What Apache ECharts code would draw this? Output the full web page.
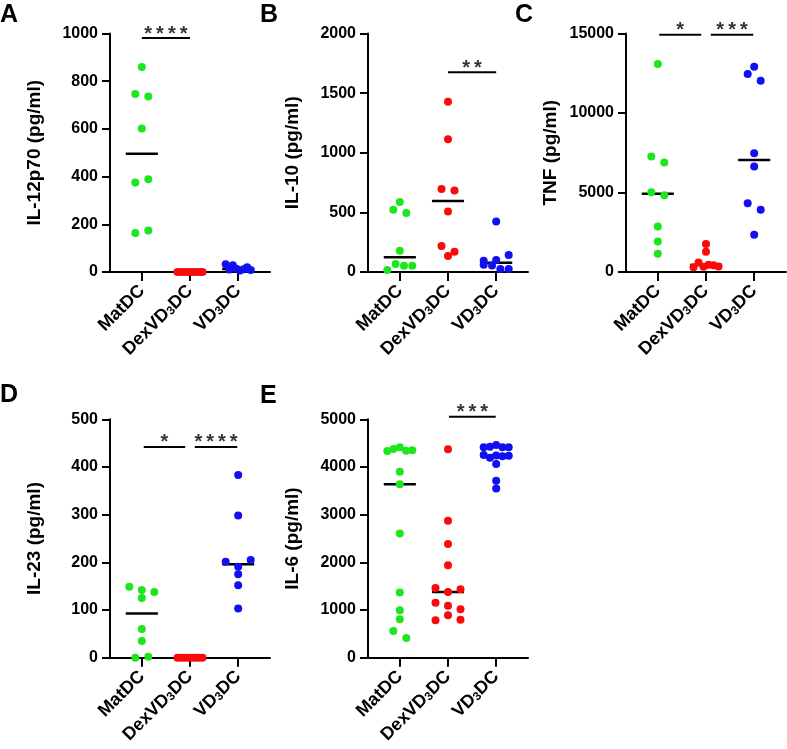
<!DOCTYPE html>
<html>
<head>
<meta charset="utf-8">
<script src="https://cdn.jsdelivr.net/npm/echarts@6.0.0/dist/echarts.min.js"></script>
<style>
html, body { margin: 0; padding: 0; background: #fff; }
#main { width: 787px; height: 749px; }
</style>
</head>
<body>
<div id="main"></div>
<script>
// groups on every x axis
var groupNames = ['MatDC', 'DexVD{sub|3}DC', 'VD{sub|3}DC'];
var groupColors = ['#1ee61e', '#fa0a0a', '#1010f0'];

// A - IL-12p70 (pg/ml)
var il12MatDC = [860, 746, 736, 602, 375, 389, 163, 174];
var il12DexVD3DC = [0, 0, 0, 0, 0, 0, 0, 0];
var il12VD3DC = [32, 10, 28, 14, 6, 12, 20, 8];

// B - IL-10 (pg/ml)
var il10MatDC = [586, 522, 494, 179, 17, 67, 53, 53];
var il10DexVD3DC = [1428, 1113, 697, 683, 508, 218, 170, 134];
var il10VD3DC = [424, 95, 101, 143, 60, 55, 25, 25];

// C - TNF (pg/ml)
var tnfMatDC = [13075, 7259, 6883, 5021, 4833, 2866, 1925, 1150];
var tnfDexVD3DC = [1760, 1280, 300, 600, 330, 450, 420, 350];
var tnfVD3DC = [12908, 12448, 12029, 7469, 6632, 4331, 3912, 2343];

// D - IL-23 (pg/ml)
var il23MatDC = [149, 142, 138, 125, 60, 35, 0, 2];
var il23DexVD3DC = [0, 0, 0, 0, 0, 0, 0, 0];
var il23VD3DC = [383, 298, 201, 191, 205, 175, 152, 103];

// E - IL-6 (pg/ml)
var il6MatDC = [4334, 4376, 4412, 4340, 4349, 3899, 3640, 2605, 1365, 994, 805, 559, 412];
var il6DexVD3DC = [4370, 2870, 2387, 1939, 1462, 1378, 1435, 1155, 1092, 1015, 784, 889, 798];
var il6VD3DC = [4412, 4425, 4460, 4412, 4412, 4250, 4195, 4240, 4225, 4235, 4061, 3710, 3550];

// significance brackets: [from group, to group, height, stars]
var sigA = [[1, 2, 981, 4]];
var sigB = [[2, 3, 1675, 2]];
var sigC = [[1.03, 1.9, 14925, 1], [2.1, 2.98, 14925, 3]];
var sigD = [[1.04, 1.9, 442, 1], [2.1, 2.98, 442, 4]];
var sigE = [[2.02, 2.99, 5055, 3]];

var panels = [
    { letter: 'A', title: 'IL-12p70 (pg/ml)', max: 1000, step: 200, groups: [il12MatDC, il12DexVD3DC, il12VD3DC], sig: sigA,
      box: { left: 110, top: 33.5, width: 160, height: 238.5 }, lx: 0, ly: 3 },
    { letter: 'B', title: 'IL-10 (pg/ml)', max: 2000, step: 500, groups: [il10MatDC, il10DexVD3DC, il10VD3DC], sig: sigB,
      box: { left: 368, top: 33.5, width: 160, height: 238.5 }, lx: 260, ly: 3 },
    { letter: 'C', title: 'TNF (pg/ml)', max: 15000, step: 5000, groups: [tnfMatDC, tnfDexVD3DC, tnfVD3DC], sig: sigC,
      box: { left: 626, top: 33.5, width: 160, height: 238.5 }, lx: 515, ly: 3 },
    { letter: 'D', title: 'IL-23 (pg/ml)', max: 500, step: 100, groups: [il23MatDC, il23DexVD3DC, il23VD3DC], sig: sigD,
      box: { left: 110, top: 419.3, width: 160, height: 238.4 }, lx: 0, ly: 383 },
    { letter: 'E', title: 'IL-6 (pg/ml)', max: 5000, step: 1000, groups: [il6MatDC, il6DexVD3DC, il6VD3DC], sig: sigE,
      box: { left: 368, top: 419.3, width: 160, height: 238.4 }, lx: 260, ly: 384 }
];

var xMin = 0.34, xMax = 3.66;
var FONT = 'Liberation Sans, Arial, sans-serif';

function median(arr) {
    var s = arr.slice().sort(function (a, b) { return a - b; });
    var m = Math.floor(s.length / 2);
    return s.length % 2 ? s[m] : (s[m - 1] + s[m]) / 2;
}

// prism-like scatter: points closer than a dot are spread on one row (px offsets)
function spread(values, pxPerVal) {
    var idx = values.map(function (v, i) { return i; });
    idx.sort(function (a, b) { return values[b] - values[a]; });
    var offs = [];
    var bin = [];
    function flush() {
        bin.sort(function (a, b) { return a - b; });
        var n = bin.length;
        var sp = n > 1 ? Math.min(13, 25 / (n - 1)) : 0;
        bin.forEach(function (k, j) { offs[k] = (j - (n - 1) / 2) * sp; });
        bin = [];
    }
    idx.forEach(function (k) {
        if (bin.length && (values[bin[0]] - values[k]) * pxPerVal > 7.2) flush();
        bin.push(k);
    });
    if (bin.length) flush();
    return offs;
}

var titles = [], grids = [], xAxes = [], yAxes = [], series = [];

panels.forEach(function (p, i) {
    titles.push({
        text: p.letter, left: p.lx, top: p.ly, padding: 0,
        textStyle: { fontSize: 25, fontWeight: 'bold', fontFamily: FONT, color: '#000' }
    });
    grids.push({ left: p.box.left, top: p.box.top, width: p.box.width, height: p.box.height });
    xAxes.push({
        type: 'value', gridIndex: i, min: xMin, max: xMax,
        splitLine: { show: false },
        axisLine: { show: true, lineStyle: { color: '#000', width: 2 } },
        axisTick: { show: true, customValues: [1, 2, 3], length: 9, lineStyle: { color: '#000', width: 2 } },
        axisLabel: {
            customValues: [1, 2, 3], rotate: 45, margin: 16,
            fontSize: 18, fontWeight: 'bold', fontFamily: FONT, color: '#000',
            formatter: function (v) { return groupNames[Math.round(v) - 1]; },
            rich: { sub: { fontSize: 12, fontWeight: 'bold', fontFamily: FONT, color: '#000', verticalAlign: 'bottom', padding: [6, 0, 0, 0] } }
        }
    });
    yAxes.push({
        type: 'value', gridIndex: i, min: 0, max: p.max, interval: p.step,
        splitLine: { show: false },
        axisLine: { show: true, lineStyle: { color: '#000', width: 2 } },
        axisTick: { show: true, length: 8, lineStyle: { color: '#000', width: 2 } },
        axisLabel: {
            margin: 12, fontSize: 16, fontWeight: 'bold', fontFamily: FONT, color: '#000',
            formatter: function (v) { return String(v); }
        },
        name: p.title, nameLocation: 'middle', nameGap: 66,
        nameTextStyle: { fontSize: 19, fontWeight: 'bold', fontFamily: FONT, color: '#000' }
    });

    var pxPerVal = p.box.height / p.max;
    var pxPerX = p.box.width / (xMax - xMin);

    p.groups.forEach(function (vals, g) {
        var offs = spread(vals, pxPerVal);
        var med = median(vals);
        series.push({
            type: 'line', xAxisIndex: i, yAxisIndex: i, z: 2,
            symbol: 'none', silent: true,
            lineStyle: { color: '#000', width: 2.5 },
            data: [[g + 1 - 0.333, med], [g + 1 + 0.333, med]]
        });
        series.push({
            type: 'scatter', xAxisIndex: i, yAxisIndex: i, z: 3, clip: false,
            symbolSize: 8,
            itemStyle: { color: groupColors[g], opacity: 1 },
            data: vals.map(function (v, k) { return [g + 1 + offs[k] / pxPerX, v]; })
        });
    });

    p.sig.forEach(function (s) {
        series.push({
            type: 'line', xAxisIndex: i, yAxisIndex: i, z: 4, clip: false,
            symbol: 'none', silent: true,
            lineStyle: { color: '#000', width: 2 },
            data: [[s[0], s[2]], [s[1], s[2]]]
        });
        series.push({
            type: 'scatter', xAxisIndex: i, yAxisIndex: i, z: 4, clip: false,
            symbolSize: 0, silent: true,
            label: {
                show: true, position: 'inside', offset: [0, -4],
                formatter: new Array(s[3] + 1).join('*').split('').join('\u2009'),
                fontSize: 20, fontWeight: 'bold', fontFamily: FONT, color: '#000'
            },
            data: [[(s[0] + s[1]) / 2, s[2]]]
        });
    });
});

var myChart = echarts.init(document.getElementById('main'));
myChart.setOption({
    animation: false,
    title: titles,
    grid: grids,
    xAxis: xAxes,
    yAxis: yAxes,
    series: series
});
</script>
</body>
</html>
